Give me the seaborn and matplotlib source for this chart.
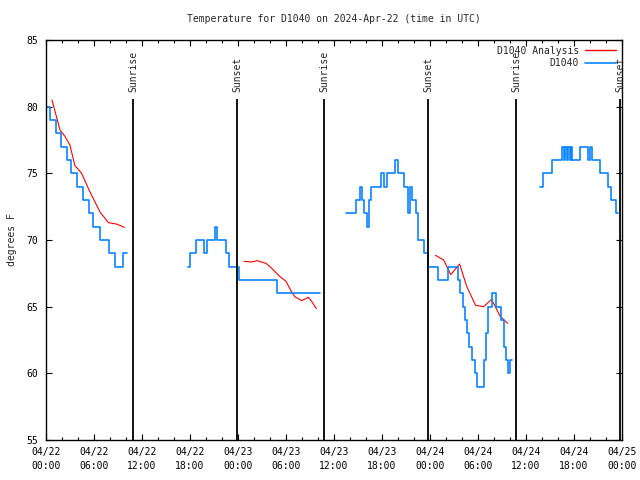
import numpy as np
import pandas as pd
import matplotlib
matplotlib.use("Agg")
import matplotlib.pyplot as plt
from matplotlib.lines import Line2D
import seaborn as sns

# hours since 04/22 00:00 UTC, stepwise observed temps (deg F)
obs_hours = [
    # segment 1
    [0, 0.5, 1.2, 1.9, 2.6, 3.15, 3.9, 4.65, 5.4, 5.9, 6.7, 7.9, 8.6, 9.6, 10.1],
    # segment 2
    [17.8, 18.0, 18.7, 19.7, 20.1, 21.1, 21.4, 22.45, 22.9, 24.1, 28.85, 34.25],
    # segment 3
    [37.5, 38.8, 39.3, 39.55, 39.8, 40.1, 40.35, 40.6, 41.85, 42.3, 42.6, 43.6,
     44.05, 44.8, 45.3, 45.5, 45.8, 46.2, 46.5, 47.3, 47.8, 49.0, 50.3, 51.5,
     51.8, 52.1, 52.35, 52.6, 52.9, 53.3, 53.6, 53.9, 54.8, 55.0, 55.2, 55.7,
     56.2, 56.9, 57.2, 57.5, 57.75, 58.05, 58.2],
    # segment 4
    [61.7, 62.1, 63.3, 64.5, 64.7, 64.9, 65.1, 65.3, 65.5, 65.6, 65.8, 66.8,
     67.75, 67.95, 68.2, 69.3, 70.3, 70.6, 71.2, 71.5],
]
obs_temps = [
    [80, 79, 78, 77, 76, 75, 74, 73, 72, 71, 70, 69, 68, 69, 69],
    [68, 69, 70, 69, 70, 71, 70, 69, 68, 67, 66, 66],
    [72, 73, 74, 73, 72, 71, 73, 74, 75, 74, 75, 76,
     75, 74, 72, 74, 73, 72, 70, 69, 68, 67, 68, 67,
     66, 65, 64, 63, 62, 61, 60, 59, 61, 63, 65, 66,
     65, 64, 62, 61, 60, 61, 61],
    [74, 75, 76, 77, 76, 77, 76, 77, 76, 77, 76, 77,
     76, 77, 76, 75, 74, 73, 72, 72],
]

# analysis series
ana_hours = [
    [0.75, 1.75, 2.4, 3.0, 3.6, 4.45, 5.5, 6.75, 7.8, 8.8, 9.8],
    [24.75, 25.7, 26.4, 27.5, 28.0, 29.25, 30.0, 30.7, 31.1, 31.95, 32.8, 33.2, 33.8],
    [48.7, 49.7, 50.6, 51.7, 52.6, 53.7, 54.7, 55.7, 56.75, 57.7],
]
ana_temps = [
    [80.5, 78.25, 77.75, 77.1, 75.6, 75.0, 73.6, 72.1, 71.3, 71.2, 70.95],
    [68.4, 68.35, 68.45, 68.25, 68.0, 67.25, 66.9, 66.1, 65.75, 65.45, 65.7, 65.4, 64.85],
    [68.85, 68.5, 67.4, 68.2, 66.5, 65.1, 65.0, 65.55, 64.3, 63.75],
]

sun_hours = [10.9, 23.9, 34.8, 47.75, 58.75, 71.75]
sun_labels = ["Sunrise", "Sunset", "Sunrise", "Sunset", "Sunrise", "Sunset"]

tick_hours = [0, 6, 12, 18, 24, 30, 36, 42, 48, 54, 60, 66, 72]
tick_labels = ["04/22\n00:00", "04/22\n06:00", "04/22\n12:00", "04/22\n18:00",
               "04/23\n00:00", "04/23\n06:00", "04/23\n12:00", "04/23\n18:00",
               "04/24\n00:00", "04/24\n06:00", "04/24\n12:00", "04/24\n18:00",
               "04/25\n00:00"]

RED = "#ff0000"
BLUE = "#0a84ff"


def to_frame(hours, temps):
    rows = []
    for seg, (hs, ts) in enumerate(zip(hours, temps)):
        for h, t in zip(hs, ts):
            rows.append({"hour": h, "temp": t, "seg": seg})
    return pd.DataFrame(rows)


obs = to_frame(obs_hours, obs_temps)
ana = to_frame(ana_hours, ana_temps)

sns.set_style("ticks")
plt.rcParams["font.family"] = ["DejaVu Sans Mono"]
plt.rcParams["font.size"] = 7

fig = plt.figure(figsize=(6.4, 4.8), dpi=100)
ax = fig.add_axes([46 / 640, 40 / 480, 576 / 640, 400 / 480])

sns.lineplot(data=ana, x="hour", y="temp", units="seg", estimator=None,
             color=RED, lw=0.8, ax=ax, legend=False)
sns.lineplot(data=obs, x="hour", y="temp", units="seg", estimator=None,
             color=BLUE, lw=1.2, drawstyle="steps-post", ax=ax, legend=False)

# sunrise / sunset markers
ax.vlines(sun_hours, 55, 80.6, color="black", lw=1.3)
for h, lab in zip(sun_hours, sun_labels):
    ax.text(h, 81.1, lab, rotation=90, ha="center", va="bottom", fontsize=7)

ax.set_xlim(0, 72)
ax.set_ylim(55, 85)
ax.set_xticks(tick_hours)
ax.set_xticklabels(tick_labels)
ax.set_xticks(np.arange(0, 73, 2), minor=True)
ax.set_yticks([55, 60, 65, 70, 75, 80, 85])
for lbl in ax.get_xticklabels():
    lbl.set_linespacing(1.45)

ax.tick_params(axis="both", which="both", direction="in", top=True, right=True,
               colors="black", labelsize=7, width=0.8)
ax.tick_params(axis="both", which="major", length=4)
ax.tick_params(axis="both", which="minor", length=2.5)
ax.tick_params(axis="x", pad=5)
ax.tick_params(axis="y", pad=6)
for sp in ax.spines.values():
    sp.set_visible(True)
    sp.set_color("black")
    sp.set_linewidth(1)

ax.set_xlabel("")
ax.set_ylabel("degrees F", fontsize=7)
ax.yaxis.set_label_coords(-0.05, 0.5)
ax.set_title("Temperature for D1040 on 2024-Apr-22 (time in UTC)", fontsize=7, pad=13)

handles = [Line2D([], [], color=RED, lw=1), Line2D([], [], color=BLUE, lw=1.2)]
ax.legend(handles, ["D1040 Analysis", "D1040"], loc="upper right", frameon=False,
          markerfirst=False, handlelength=3.2, borderaxespad=0.2, labelspacing=0.25,
          handletextpad=0.6, fontsize=7)

fig.savefig("out.png", dpi=100)
